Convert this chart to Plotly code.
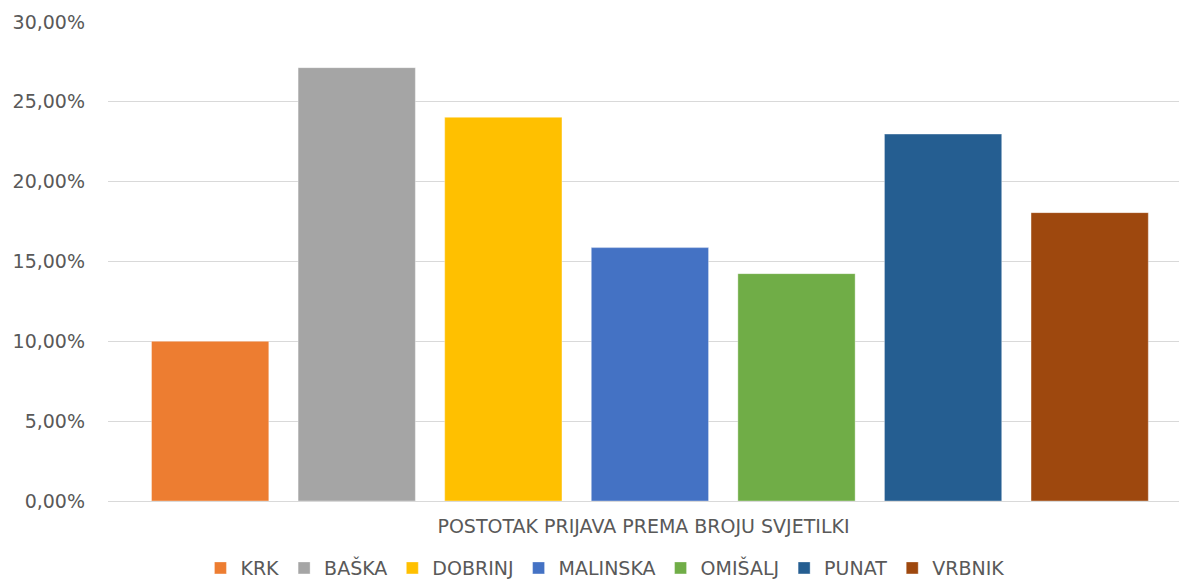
import plotly.graph_objects as go

# Share of reports by number of street lights, per municipality
category = ["POSTOTAK PRIJAVA PREMA BROJU SVJETILKI"]
municipalities = ["KRK", "BAŠKA", "DOBRINJ", "MALINSKA", "OMIŠALJ", "PUNAT", "VRBNIK"]
shares = [0.1000, 0.2714, 0.2403, 0.1587, 0.1424, 0.2298, 0.1806]
colors = ["#ED7D31", "#A5A5A5", "#FFC000", "#4472C4", "#70AD47", "#255E91", "#9E480E"]

TEXT = "#595959"
FONT = "DejaVu Sans"

fig = go.Figure()
for name, val, col in zip(municipalities, shares, colors):
    fig.add_trace(go.Bar(
        x=category,
        y=[val],
        name=name,
        marker=dict(color=col, line=dict(width=0.6, color="rgba(255,255,255,0.6)")),
    ))

fig.update_layout(
    width=1179,
    height=581,
    barmode="group",
    bargap=0.2,
    bargroupgap=0.2,
    separators=",.",
    paper_bgcolor="white",
    plot_bgcolor="white",
    margin=dict(l=108, r=0, t=22, b=80, autoexpand=False),
    font=dict(family=FONT, size=19, color=TEXT),
    showlegend=True,
    legend=dict(
        orientation="h",
        x=0.464,
        xanchor="center",
        y=-0.14,
        yanchor="middle",
        font=dict(family=FONT, size=19, color=TEXT),
        itemwidth=30,
        traceorder="normal",
    ),
    xaxis=dict(
        range=[-0.4225, 0.4125],
        showticklabels=False,
        showgrid=False,
        showline=True,
        linecolor="#D9D9D9",
        linewidth=1,
        ticks="",
        title=dict(
            text=category[0],
            font=dict(family=FONT, size=19, color=TEXT),
            standoff=18,
        ),
        automargin=False,
    ),
    yaxis=dict(
        range=[0, 0.30],
        tickmode="linear",
        tick0=0,
        dtick=0.05,
        tickformat=".2%",
        showgrid=True,
        gridcolor="#D9D9D9",
        gridwidth=1,
        zeroline=False,
        showline=False,
        ticks="",
        ticklabelstandoff=22,
        tickfont=dict(family=FONT, size=19, color=TEXT),
        automargin=False,
    ),
)

fig.write_html("out.html")
